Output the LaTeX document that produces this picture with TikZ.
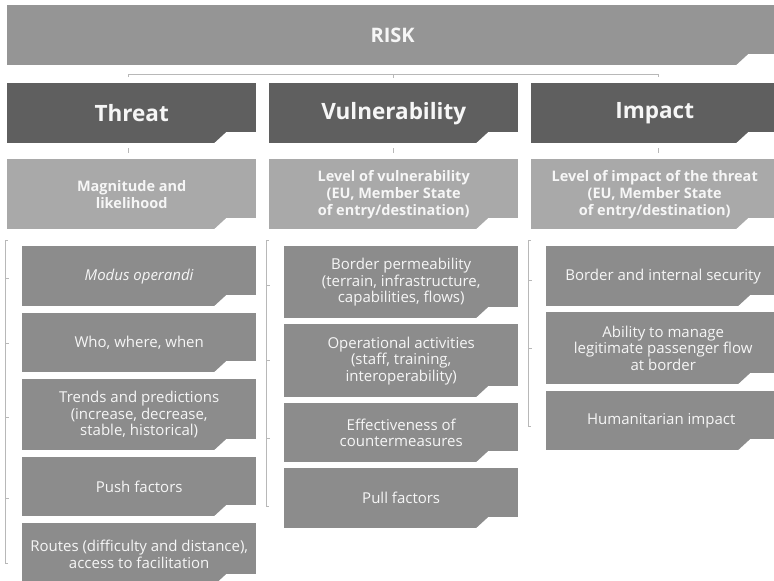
\documentclass[tikz,border=0pt]{standalone}
\usepackage{fontspec}
\setmainfont{Open Sans}
\usepackage{xcolor}
\usetikzlibrary{calc}
\definecolor{riskgrey}{HTML}{959595}
\definecolor{headgrey}{HTML}{5F5F5F}
\definecolor{levelgrey}{HTML}{A9A9A9}
\definecolor{itemgrey}{HTML}{8C8C8C}
\definecolor{linegrey}{HTML}{B8B8B8}
\definecolor{textwhite}{HTML}{F6F6F6}
\tikzset{
  box/.style = {
    anchor=north west,
    inner sep=0pt,
    align=center,
    text=textwhite,
    path picture={
      \fill[white] (path picture bounding box.south east) -- ++(0pt,11pt)
        -- ++(-30pt,0pt) -- ++(-12pt,-11pt) -- cycle;
    }
  },
  riskbox/.style = {
    box, fill=riskgrey,
    minimum width=771pt, minimum height=60pt,
    font={\fontsize{20}{24}\selectfont\bfseries}
  },
  headbox/.style = {
    box, fill=headgrey,
    minimum width=249pt, minimum height=60pt,
    font={\fontsize{22.5}{26}\selectfont\bfseries}
  },
  levelbox/.style = {
    box, fill=levelgrey,
    minimum width=249pt, minimum height=70pt,
    font={\fontsize{14.5}{17}\selectfont\bfseries}
  },
  itembox/.style = {
    box, fill=itemgrey,
    minimum width=234pt,
    font={\fontsize{15}{16.5}\selectfont}
  },
  link/.style = {
    draw=linegrey,
    line width=0.9pt
  },
}

\begin{document}
\begin{tikzpicture}[x=1pt,y=-1pt]
  \useasboundingbox (0,0) rectangle (774,581);

  \node[riskbox] (risk) at (7,5) {RISK};

  \node[headbox] (threat) at (7,83) {Threat};
  \node[headbox] (vuln) at (269,83) {Vulnerability};
  \node[headbox, minimum width=247pt] (impact) at (531,83) {Impact};

  \node[levelbox] (magnitude) at (7,159) {Magnitude and\\likelihood};
  \node[levelbox] (vlevel) at (269,159)
    {Level of vulnerability\\(EU, Member State\\of entry/destination)};
  \node[levelbox, minimum width=247pt] (ilevel) at (531,159)
    {Level of impact of the threat\\(EU, Member State\\of entry/destination)};

  \foreach \name/\xpos/\ypos/\high/\txt in {
    modus/22/246/60/{\textit{Modus operandi}},
    who/22/313/59/{Who, where, when},
    trends/22/379/71/{Trends and predictions\\(increase, decrease,\\stable, historical)},
    push/22/457/59/{Push factors},
    routes/22/523/62/{Routes (difficulty and distance),\\access to facilitation},
    border/284/246/72/{Border permeability\\(terrain, infrastructure,\\capabilities, flows)},
    ops/284/324/73/{Operational activities\\(staff, training,\\interoperability)},
    effect/284/403/59/{Effectiveness of\\countermeasures},
    pull/284/468/60/{Pull factors},
    security/546/246/60/{Border and internal security},
    ability/546/312/72/{Ability to manage\\legitimate passenger flow\\at border},
    human/546/391/59/{Humanitarian impact}
  } {
    \node[itembox, minimum height=\high pt] (\name) at (\xpos,\ypos) {\txt};
  }

  % tree line under RISK
  \coordinate (tl) at (128,74);
  \coordinate (tr) at (658,74);
  \draw[link] ([yshift=-3pt]tl) -- (tl) -- (tr) -- ([yshift=-3pt]tr);
  \draw[link] (393,74) -- (393,78);

  % ticks between heads and levels
  \foreach \xpos in {128,393,658}
    \draw[link] (\xpos,148) -- (\xpos,153);

  % brackets
  \foreach \xpos/\ytop/\ybot in {5/240/563, 266/240/506, 528/240/426} {
    \draw[link] (\xpos+3,\ytop) -- (\xpos,\ytop) -- (\xpos,\ybot) -- (\xpos+3,\ybot);
  }
  \foreach \xpos/\ypos in {
    5/278, 5/343, 5/417, 5/498,
    266/285, 266/360, 266/438,
    528/280, 528/348
  } {
    \draw[link] (\xpos,\ypos) -- (\xpos+4,\ypos);
  }

\end{tikzpicture}
\end{document}
